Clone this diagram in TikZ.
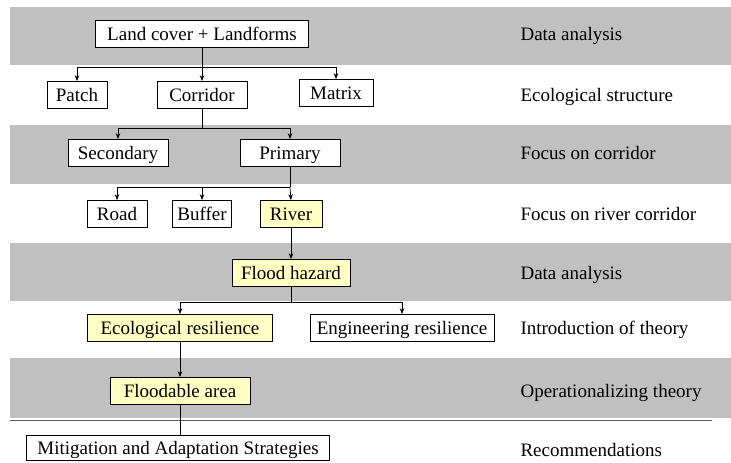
\documentclass[tikz,border=0pt]{standalone}
\usepackage{fontspec}
\setmainfont{Liberation Serif}
\usetikzlibrary{arrows.meta}
\definecolor{bandgray}{HTML}{C0C0C0}
\definecolor{hiyellow}{HTML}{FFFFC4}
\tikzset{
  box/.style={draw, fill=white, line width=0.7pt, minimum height=27pt, inner sep=2pt,
    text height=15pt, text depth=3pt, font=\fontsize{19}{22}\selectfont},
  hibox/.style={box, fill=hiyellow},
  stage/.style={anchor=west, text height=15pt, text depth=3pt, font=\fontsize{19}{22}\selectfont},
  arr/.style={-{Stealth[length=6pt,width=4.5pt]}, line width=0.7pt},
  link/.style={line width=0.7pt}
}
\begin{document}
\begin{tikzpicture}[x=1pt,y=-1pt]
\useasboundingbox (0,0) rectangle (731,463);
% grey bands
\fill[bandgray] (10,7) rectangle (731,65);
\fill[bandgray] (10,125) rectangle (731,184);
\fill[bandgray] (10,243) rectangle (731,301);
\fill[bandgray] (10,358) rectangle (731,418);
\draw[gray!70!black, line width=0.8pt] (10,420) -- (712,420);
% boxes
\node[box, minimum width=213pt] (lc) at (202,34) {Land cover + Landforms};
\node[box, minimum width=60pt] (patch) at (77,95) {Patch};
\node[box, minimum width=90pt] (corr) at (202,95) {Corridor};
\node[box, minimum width=74pt] (matrix) at (336,93) {Matrix};
\node[box, minimum width=100pt] (sec) at (118,153) {Secondary};
\node[box, minimum width=100pt] (prim) at (290,153) {Primary};
\node[box, minimum width=60pt] (road) at (117,214) {Road};
\node[box, minimum width=59pt] (buffer) at (202,214) {Buffer};
\node[hibox, minimum width=62pt] (river) at (291,214) {River};
\node[hibox, minimum width=118pt] (flood) at (291,273) {Flood hazard};
\node[hibox, minimum width=185pt] (ecores) at (180,328) {Ecological resilience};
\node[box, minimum width=184pt] (engres) at (402,328) {Engineering resilience};
\node[hibox, minimum width=140pt] (floodable) at (180,391) {Floodable area};
\node[box, minimum width=303pt, minimum height=25pt] (mitig) at (178,448) {Mitigation and Adaptation Strategies};
% stage labels
\node[stage] (s1) at (517,34) {Data analysis};
\node[stage] (s2) at (517,95) {Ecological structure};
\node[stage] (s3) at (517,153) {Focus on corridor};
\node[stage] (s4) at (517,214) {Focus on river corridor};
\node[stage] (s5) at (517,273) {Data analysis};
\node[stage] (s6) at (517,328) {Introduction of theory};
\node[stage] (s7) at (517,391) {Operationalizing theory};
\node[stage] (s8) at (517,450) {Recommendations};
% connectors
\coordinate (b1) at (202,67);
\coordinate (b2) at (202,128);
\coordinate (b3) at (290,187);
\coordinate (b4) at (291,302);
\draw[link] (lc.south) -- (b1);
\draw[arr] (b1) -| (patch.north);
\draw[arr] (b1) -- (corr.north);
\draw[arr] (b1) -| (matrix.north);
\draw[link] (corr.south) -- (b2);
\draw[arr] (b2) -| (sec.north);
\draw[arr] (b2) -| (prim.north);
\draw[link] (prim.south) -- (b3);
\draw[arr] (b3) -| (road.north);
\draw[arr] (b3) -| (buffer.north);
\draw[arr] (b3) -- (river.north);
\draw[arr] (river.south) -- (flood.north);
\draw[link] (flood.south) -- (b4);
\draw[arr] (b4) -| (ecores.north);
\draw[arr] (b4) -| (engres.north);
\draw[arr] (ecores.south) -- (floodable.north);
\draw[link] (floodable.south) -- (floodable.south |- mitig.north);
\end{tikzpicture}
\end{document}
